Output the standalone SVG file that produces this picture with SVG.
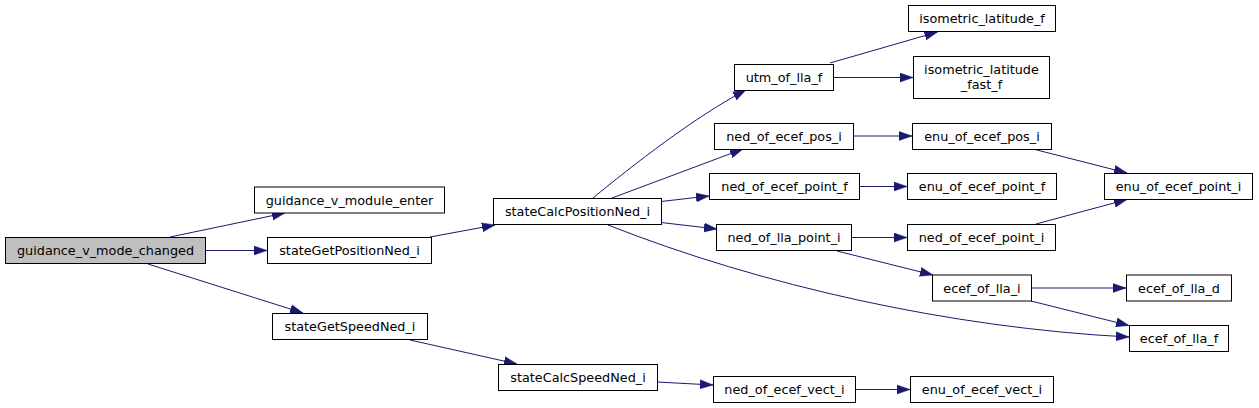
<svg xmlns="http://www.w3.org/2000/svg" width="1259" height="408" viewBox="0 0 1259 408">
<style>
.n rect{fill:#ffffff;stroke:#000000;stroke-width:1}
.n.root rect{fill:#bfbfbf}
.n text{font-family:"DejaVu Sans","Liberation Sans",sans-serif;font-size:12.8px;fill:#000000;text-anchor:middle}
.e path{fill:none;stroke:#191970;stroke-width:1;marker-end:url(#arr)}
</style>
<defs>
<marker id="arr" markerUnits="userSpaceOnUse" markerWidth="13" markerHeight="10" viewBox="0 -5 13 10" refX="13" refY="0" orient="auto">
<path d="M0,-4.5L13,0L0,4.5z" fill="#191970" stroke="#191970" stroke-width="0.5"/>
</marker>
</defs>
<g id="connectors" class="e">
<path d="M170,237L285,213"/>
<path d="M205,250.5L267,250.5"/>
<path d="M148,264L303,313"/>
<path d="M430,237L495,225"/>
<path d="M410,340L517,364"/>
<path d="M593,198C633,165 696,116 746,90"/>
<path d="M612,198L743,149"/>
<path d="M661,201.5L709,196"/>
<path d="M661,222.5L717,229"/>
<path d="M608,225C760,285 950,328 1129,337"/>
<path d="M657,382L713,385"/>
<path d="M830,63L937.5,32"/>
<path d="M833,77.5L913,77.5"/>
<path d="M853,136L912,136"/>
<path d="M859,186.5L907,186.5"/>
<path d="M851,237.5L907,237.5"/>
<path d="M837,251L933,275"/>
<path d="M855,389.5L910,389.5"/>
<path d="M1033,149L1127,173"/>
<path d="M1036,224L1127,199.5"/>
<path d="M1031,288L1126,288"/>
<path d="M1031,301L1129,325.5"/>
</g>
<g id="guidance_v_mode_changed" class="n root"><rect x="5.5" y="237.5" width="200" height="26"/><text x="105.5" y="255">guidance_v_mode_changed</text></g>
<g id="guidance_v_module_enter" class="n"><rect x="254.5" y="187" width="190" height="26"/><text x="349.5" y="204.5">guidance_v_module_enter</text></g>
<g id="stateGetPositionNed_i" class="n"><rect x="267.5" y="237.5" width="164" height="26"/><text x="349.5" y="255">stateGetPositionNed_i</text></g>
<g id="stateGetSpeedNed_i" class="n"><rect x="272.5" y="313.5" width="155" height="26"/><text x="350" y="331">stateGetSpeedNed_i</text></g>
<g id="stateCalcPositionNed_i" class="n"><rect x="493.5" y="198.5" width="168" height="26"/><text x="577.5" y="216">stateCalcPositionNed_i</text></g>
<g id="stateCalcSpeedNed_i" class="n"><rect x="498.5" y="364.5" width="159" height="26"/><text x="578" y="382">stateCalcSpeedNed_i</text></g>
<g id="utm_of_lla_f" class="n"><rect x="734.5" y="64.5" width="99" height="26"/><text x="784" y="82">utm_of_lla_f</text></g>
<g id="ned_of_ecef_pos_i" class="n"><rect x="714.5" y="123.5" width="139" height="26"/><text x="784" y="141">ned_of_ecef_pos_i</text></g>
<g id="ned_of_ecef_point_f" class="n"><rect x="709.5" y="173.5" width="150" height="26"/><text x="784.5" y="191">ned_of_ecef_point_f</text></g>
<g id="ned_of_lla_point_i" class="n"><rect x="716.5" y="224.5" width="135" height="26"/><text x="784" y="242">ned_of_lla_point_i</text></g>
<g id="ned_of_ecef_vect_i" class="n"><rect x="713.5" y="376.5" width="142" height="26"/><text x="784.5" y="394">ned_of_ecef_vect_i</text></g>
<g id="isometric_latitude_f" class="n"><rect x="908.5" y="5.5" width="147" height="26"/><text x="982" y="23">isometric_latitude_f</text></g>
<g id="isometric_latitude_fast_f" class="n"><rect x="913.5" y="56.5" width="136" height="42"/><text x="981.5" y="73.5">isometric_latitude</text><text x="981.5" y="88.5">_fast_f</text></g>
<g id="enu_of_ecef_pos_i" class="n"><rect x="912.5" y="123.5" width="139" height="26"/><text x="982" y="141">enu_of_ecef_pos_i</text></g>
<g id="enu_of_ecef_point_f" class="n"><rect x="907.5" y="173.5" width="149" height="26"/><text x="982" y="191">enu_of_ecef_point_f</text></g>
<g id="ned_of_ecef_point_i" class="n"><rect x="907.5" y="224.5" width="148" height="26"/><text x="981.5" y="242">ned_of_ecef_point_i</text></g>
<g id="ecef_of_lla_i" class="n"><rect x="932.5" y="275" width="99" height="26"/><text x="982" y="292.5">ecef_of_lla_i</text></g>
<g id="enu_of_ecef_vect_i" class="n"><rect x="910.5" y="376.5" width="143" height="26"/><text x="982" y="394">enu_of_ecef_vect_i</text></g>
<g id="enu_of_ecef_point_i" class="n"><rect x="1104.5" y="173.5" width="148" height="26"/><text x="1178.5" y="191">enu_of_ecef_point_i</text></g>
<g id="ecef_of_lla_d" class="n"><rect x="1126.5" y="275" width="105" height="26"/><text x="1179" y="292.5">ecef_of_lla_d</text></g>
<g id="ecef_of_lla_f" class="n"><rect x="1129.5" y="325.5" width="99" height="26"/><text x="1179" y="343">ecef_of_lla_f</text></g>
</svg>
